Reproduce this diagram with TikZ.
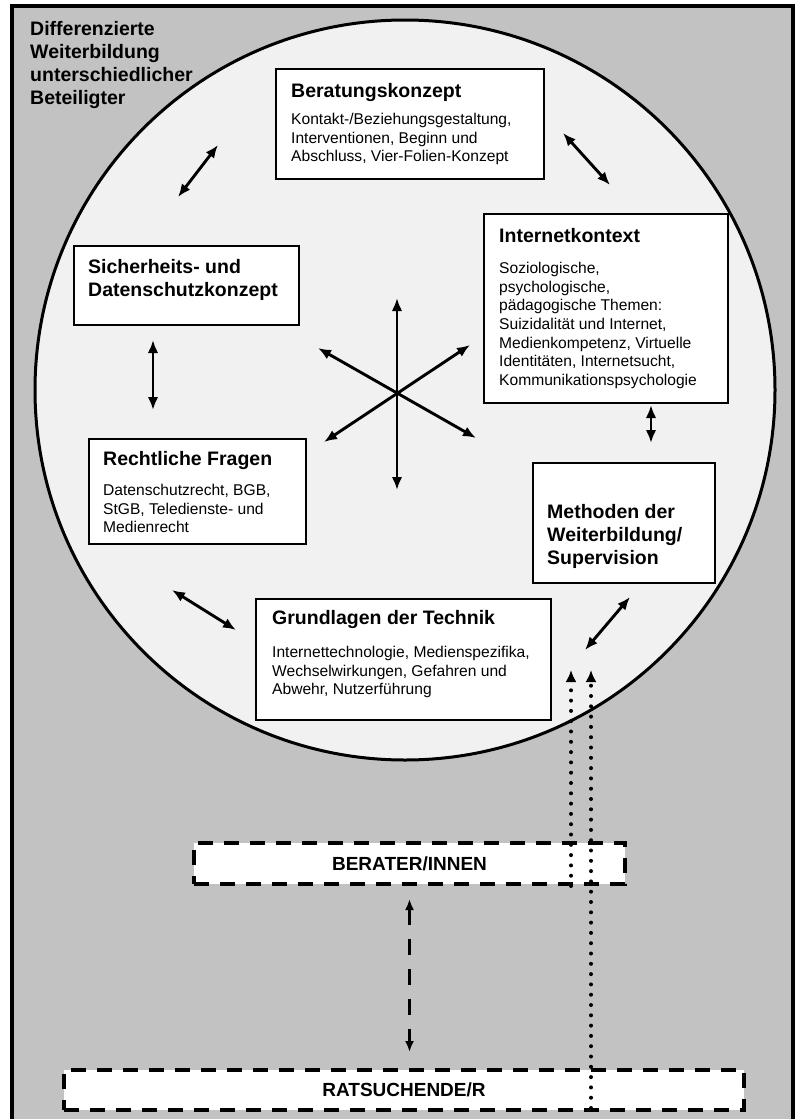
\documentclass[tikz,border=0pt]{standalone}
\usepackage{fontspec}
\setmainfont{Liberation Sans}
\usetikzlibrary{arrows.meta}
\newcommand\bodysize{\fontsize{15.6}{18.7}\selectfont}
\newcommand\headsize{\fontsize{19.5}{23}\selectfont\bfseries}
\newcommand\groupsize{\fontsize{19}{23}\selectfont\bfseries}
\definecolor{panelgray}{gray}{0.76}
\definecolor{circlefill}{gray}{0.945}
\begin{document}
\begin{tikzpicture}[x=1pt,y=-1pt,
  topicbox/.style={draw=black, line width=1.9pt, fill=white, anchor=north west, inner sep=0pt},
  headtext/.style={anchor=base west, inner sep=0pt, font=\headsize},
  headblock/.style={anchor=north west, inner sep=0pt, font=\headsize, align=left},
  bodytext/.style={anchor=north west, inner sep=0pt, font=\bodysize, align=left},
  link/.style={line width=2.9pt, {Latex[length=13pt,width=10.5pt]}-{Latex[length=13pt,width=10.5pt]}},
  groupbox/.style={draw=black, line width=4pt, dash pattern=on 15pt off 11pt, fill=white, inner sep=0pt, anchor=north west, font=\groupsize},
  dashlink/.style={line width=3pt, dash pattern=on 16pt off 14pt, {Latex[length=11pt,width=9pt]}-{Latex[length=11pt,width=9pt]}},
  dotlink/.style={line width=4pt, line cap=round, dash pattern=on 0pt off 10.3pt, -{Latex[length=12pt,width=11pt]}},
]
\useasboundingbox (0,0) rectangle (796,1119);
\fill[white] (0,0) rectangle (796,1119);
% outer panel
\draw[line width=3.5pt, fill=panelgray] (12,6) rectangle (793,1135);
% central circle
\node[circle, draw=black, line width=3pt, fill=circlefill, minimum size=740pt, inner sep=0pt] (ring) at (405,390) {};

% title in the upper left corner
\node[headblock] (title) at (30,21) {Differenzierte\\Weiterbildung\\unterschiedlicher\\Beteiligter};

% topic boxes
\node[topicbox, minimum width=268pt, minimum height=110pt] (bk) at (275,68) {};
\node[headtext] (bkh) at (291,97) {Beratungskonzept};
\node[bodytext] (bkb) at (291,112.8) {Kontakt-/Beziehungsgestaltung,\\Interventionen, Beginn und\\Abschluss, Vier-Folien-Konzept};

\node[topicbox, minimum width=244pt, minimum height=189pt] (ik) at (483,213) {};
\node[headtext] (ikh) at (499,242) {Internetkontext};
\node[bodytext] (ikb) at (499,261.8) {Soziologische,\\psychologische,\\pädagogische Themen:\\Suizidalität und Internet,\\Medienkompetenz, Virtuelle\\Identitäten, Internetsucht,\\Kommunikationspsychologie};

\node[topicbox, minimum width=225pt, minimum height=79pt] (sd) at (73,245) {};
\node[headblock] (sdh) at (88,259) {Sicherheits- und\\Datenschutzkonzept};

\node[topicbox, minimum width=217pt, minimum height=105pt] (rf) at (88,438) {};
\node[headtext] (rfh) at (103,465) {Rechtliche Fragen};
\node[bodytext] (rfb) at (103,483.8) {Datenschutzrecht, BGB,\\StGB, Teledienste- und\\Medienrecht};

\node[topicbox, minimum width=295pt, minimum height=121pt] (gt) at (255,598) {};
\node[headtext] (gth) at (272,624) {Grundlagen der Technik};
\node[bodytext] (gtb) at (272,645.8) {Internettechnologie, Medienspezifika,\\Wechselwirkungen, Gefahren und\\Abwehr, Nutzerführung};

\node[topicbox, minimum width=182pt, minimum height=120pt] (mw) at (532,462) {};
\node[headblock] (mwh) at (547,504) {Methoden der\\Weiterbildung/\\Supervision};

% links between neighbouring topics
\coordinate (a1s) at (218,145); \coordinate (a1e) at (178,197);
\coordinate (a2s) at (563,133); \coordinate (a2e) at (610,185);
\coordinate (a3s) at (651,405); \coordinate (a3e) at (651,443);
\coordinate (a4s) at (630,597); \coordinate (a4e) at (585,650);
\coordinate (a5s) at (172,590); \coordinate (a5e) at (236,630);
\coordinate (a6s) at (153,340); \coordinate (a6e) at (153,410);
\draw[link] (a1s) -- (a1e);
\draw[link] (a2s) -- (a2e);
\draw[link] (a3s) -- (a3e);
\draw[link] (a4s) -- (a4e);
\draw[link] (a5s) -- (a5e);
\draw[link] (a6s) -- (a6e);

% star in the middle
\coordinate (hub) at (397,393);
\coordinate (sn) at (397,298); \coordinate (ss) at (397,490);
\coordinate (snw) at (318,348); \coordinate (sse) at (476,438);
\coordinate (sne) at (470,345); \coordinate (ssw) at (324,442);
\draw[link] (sn) -- (ss);
\draw[link] (snw) -- (sse);
\draw[link] (sne) -- (ssw);

% participants
\node[groupbox, minimum width=431pt, minimum height=41pt] (ber) at (192,841) {BERATER/INNEN};
\node[groupbox, minimum width=680pt, minimum height=40pt] (rs) at (62,1068) {RATSUCHENDE/R};

\draw[dashlink] ([yshift=-13pt]ber.south) -- ([yshift=16pt]ber.south |- rs.north);

\coordinate (t1) at (571,670);
\coordinate (t2) at (591,670);
\draw[dotlink] (ber.south -| t1) -- (t1);
\draw[dotlink] ([yshift=4pt]rs.south -| t2) -- (t2);
\end{tikzpicture}
\end{document}
